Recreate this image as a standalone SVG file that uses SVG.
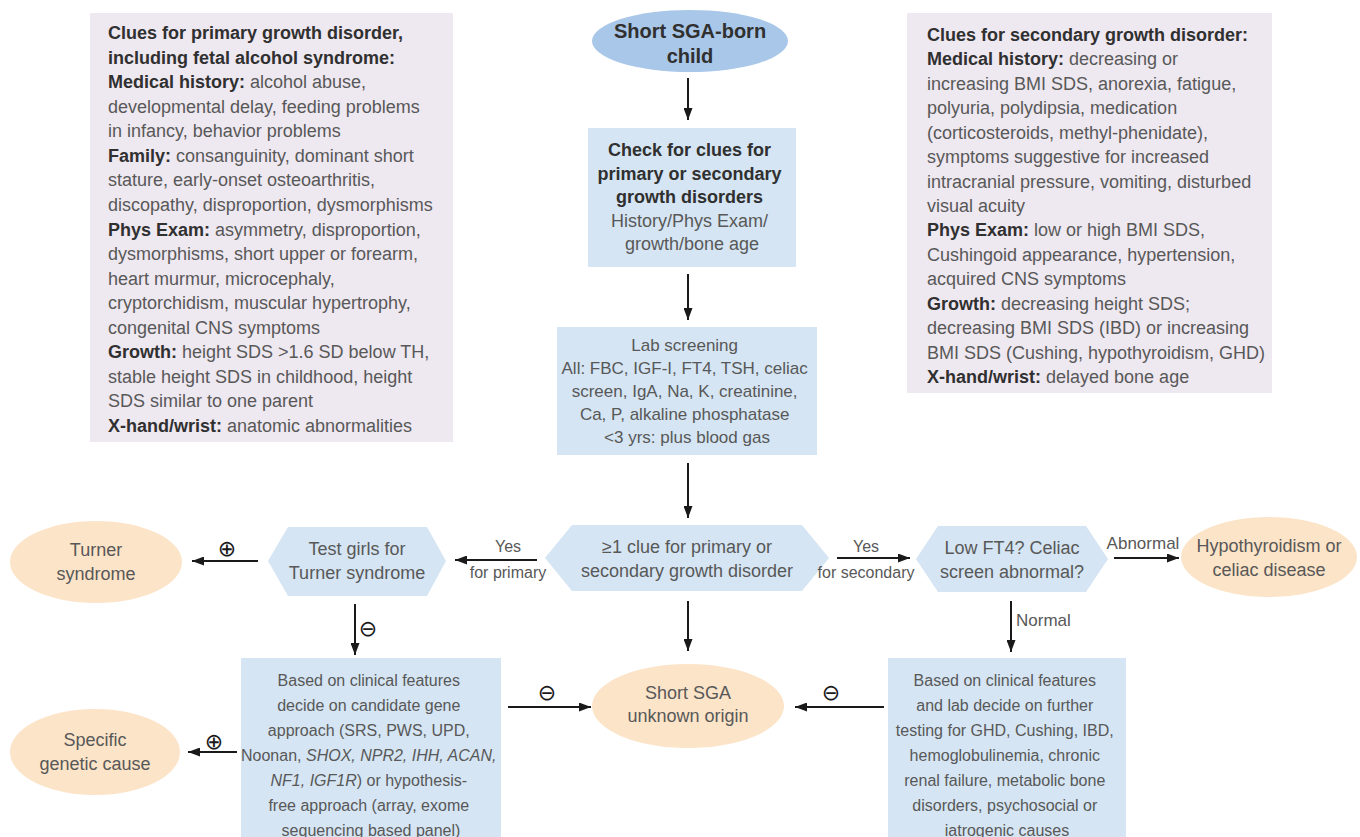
<svg xmlns="http://www.w3.org/2000/svg" width="1360" height="837" viewBox="0 0 1360 837">
<defs>
<marker id="ah" markerUnits="userSpaceOnUse" markerWidth="12" markerHeight="9" refX="12" refY="4.5" orient="auto">
<path d="M0,0 L12,4.5 L0,9 z" fill="#1a1a1a"/>
</marker>
<style>
.lav{fill:#eee8f0}
.blue{fill:#d5e5f3}
.peach{fill:#fce4c8}
.topc{fill:#a9c7e8}
.t{font-family:"Liberation Sans",Arial,sans-serif;fill:#585858;font-size:18px}
.b{font-weight:bold;fill:#303030}
.c{text-anchor:middle}
.s16{font-size:16px}
.s17{font-size:17px}
.sym{font-family:"DejaVu Sans",sans-serif;font-size:22px;fill:#1a1a1a;text-anchor:middle;dominant-baseline:central}
.edge{stroke:#1a1a1a;stroke-width:2;fill:none;marker-end:url(#ah)}
</style>
</defs>
<rect width="1360" height="837" fill="#ffffff"/>

<g id="clues-primary">
<rect class="lav" x="90" y="13" width="363" height="429"/>
<text class="t">
<tspan x="108" y="39" class="b">Clues for primary growth disorder,</tspan>
<tspan x="108" y="63.6" class="b">including fetal alcohol syndrome:</tspan>
<tspan x="108" y="88.1"><tspan class="b">Medical history:</tspan> alcohol abuse,</tspan>
<tspan x="108" y="112.7">developmental delay, feeding problems</tspan>
<tspan x="108" y="137.2">in infancy, behavior problems</tspan>
<tspan x="108" y="161.8"><tspan class="b">Family:</tspan> consanguinity, dominant short</tspan>
<tspan x="108" y="186.4">stature, early-onset osteoarthritis,</tspan>
<tspan x="108" y="210.9">discopathy, disproportion, dysmorphisms</tspan>
<tspan x="108" y="235.5"><tspan class="b">Phys Exam:</tspan> asymmetry, disproportion,</tspan>
<tspan x="108" y="260">dysmorphisms, short upper or forearm,</tspan>
<tspan x="108" y="284.6">heart murmur, microcephaly,</tspan>
<tspan x="108" y="309.2">cryptorchidism, muscular hypertrophy,</tspan>
<tspan x="108" y="333.7">congenital CNS symptoms</tspan>
<tspan x="108" y="358.3"><tspan class="b">Growth:</tspan> height SDS &gt;1.6 SD below TH,</tspan>
<tspan x="108" y="382.8">stable height SDS in childhood, height</tspan>
<tspan x="108" y="407.4">SDS similar to one parent</tspan>
<tspan x="108" y="432"><tspan class="b">X-hand/wrist:</tspan> anatomic abnormalities</tspan>
</text>
</g>

<g id="clues-secondary">
<rect class="lav" x="907" y="13" width="365" height="380"/>
<text class="t">
<tspan x="927" y="41" class="b">Clues for secondary growth disorder:</tspan>
<tspan x="927" y="65.4"><tspan class="b">Medical history:</tspan> decreasing or</tspan>
<tspan x="927" y="89.9">increasing BMI SDS, anorexia, fatigue,</tspan>
<tspan x="927" y="114.3">polyuria, polydipsia, medication</tspan>
<tspan x="927" y="138.7">(corticosteroids, methyl-phenidate),</tspan>
<tspan x="927" y="163.2">symptoms suggestive for increased</tspan>
<tspan x="927" y="187.6">intracranial pressure, vomiting, disturbed</tspan>
<tspan x="927" y="212">visual acuity</tspan>
<tspan x="927" y="236.4"><tspan class="b">Phys Exam:</tspan> low or high BMI SDS,</tspan>
<tspan x="927" y="260.9">Cushingoid appearance, hypertension,</tspan>
<tspan x="927" y="285.3">acquired CNS symptoms</tspan>
<tspan x="927" y="309.7"><tspan class="b">Growth:</tspan> decreasing height SDS;</tspan>
<tspan x="927" y="334.2">decreasing BMI SDS (IBD) or increasing</tspan>
<tspan x="927" y="358.6">BMI SDS (Cushing, hypothyroidism, GHD)</tspan>
<tspan x="927" y="383"><tspan class="b">X-hand/wrist:</tspan> delayed bone age</tspan>
</text>
</g>

<g id="start">
<ellipse class="topc" cx="690" cy="41" rx="98" ry="31"/>
<text class="t b c" style="font-size:20px"><tspan x="690" y="38">Short SGA-born</tspan><tspan x="690" y="63">child</tspan></text>
</g>

<g id="check-clues">
<rect class="blue" x="588" y="128" width="208" height="139"/>
<text class="t c">
<tspan x="692" y="156" class="b">Check for clues for</tspan>
<tspan x="692" y="180" class="b">primary or secondary</tspan>
<tspan x="692" y="203" class="b">growth disorders</tspan>
<tspan x="692" y="227">History/Phys Exam/</tspan>
<tspan x="692" y="250">growth/bone age</tspan>
</text>
</g>

<g id="lab-screening">
<rect class="blue" x="557" y="327" width="260" height="128"/>
<text class="t c s17">
<tspan x="687" y="351">Lab screening</tspan>
<tspan x="687" y="374">All: FBC, IGF-I, FT4, TSH, celiac</tspan>
<tspan x="687" y="397">screen, IgA, Na, K, creatinine,</tspan>
<tspan x="687" y="420">Ca, P, alkaline phosphatase</tspan>
<tspan x="687" y="443">&lt;3 yrs: plus blood gas</tspan>
</text>
</g>

<g id="decision">
<polygon class="blue" points="545,558 572,525 802,525 829,558 802,591 572,591"/>
<text class="t c"><tspan x="687" y="553">≥1 clue for primary or</tspan><tspan x="687" y="577">secondary growth disorder</tspan></text>
</g>

<g id="test-turner">
<polygon class="blue" points="268,561 288,527 427,527 446,561 427,596 288,596"/>
<text class="t c"><tspan x="357" y="555">Test girls for</tspan><tspan x="357" y="579">Turner syndrome</tspan></text>
</g>

<g id="turner">
<ellipse class="peach" cx="96" cy="562" rx="86" ry="41"/>
<text class="t c"><tspan x="96" y="556">Turner</tspan><tspan x="96" y="580">syndrome</tspan></text>
</g>

<g id="low-ft4">
<polygon class="blue" points="916,559 938,526 1086,526 1108,559 1086,592 938,592"/>
<text class="t c"><tspan x="1012" y="554">Low FT4? Celiac</tspan><tspan x="1012" y="578">screen abnormal?</tspan></text>
</g>

<g id="hypothyroidism">
<ellipse class="peach" cx="1269" cy="557" rx="88" ry="40"/>
<text class="t c"><tspan x="1269" y="552">Hypothyroidism or</tspan><tspan x="1269" y="576">celiac disease</tspan></text>
</g>

<g id="genetic-testing">
<rect class="blue" x="241" y="658" width="260" height="179"/>
<text class="t c s16">
<tspan x="371" y="686">Based on clinical features</tspan>
<tspan x="371" y="711">decide on candidate gene</tspan>
<tspan x="371" y="736">approach (SRS, PWS, UPD,</tspan>
<tspan x="371" y="761">Noonan, <tspan font-style="italic">SHOX, NPR2, IHH, ACAN,</tspan></tspan>
<tspan x="371" y="786"><tspan font-style="italic">NF1, IGF1R</tspan>) or hypothesis-</tspan>
<tspan x="371" y="811">free approach (array, exome</tspan>
<tspan x="371" y="836">sequencing based panel)</tspan>
</text>
</g>

<g id="specific-genetic">
<ellipse class="peach" cx="95" cy="752" rx="85" ry="43"/>
<text class="t c"><tspan x="95" y="746">Specific</tspan><tspan x="95" y="770">genetic cause</tspan></text>
</g>

<g id="unknown-origin">
<ellipse class="peach" cx="688" cy="706" rx="96" ry="42"/>
<text class="t c"><tspan x="688" y="699">Short SGA</tspan><tspan x="688" y="722">unknown origin</tspan></text>
</g>

<g id="further-testing">
<rect class="blue" x="888" y="658" width="238" height="179"/>
<text class="t c s16">
<tspan x="1007" y="686">Based on clinical features</tspan>
<tspan x="1007" y="711">and lab decide on further</tspan>
<tspan x="1007" y="736">testing for GHD, Cushing, IBD,</tspan>
<tspan x="1007" y="761">hemoglobulinemia, chronic</tspan>
<tspan x="1007" y="786">renal failure, metabolic bone</tspan>
<tspan x="1007" y="811">disorders, psychosocial or</tspan>
<tspan x="1007" y="836">iatrogenic causes</tspan>
</text>
</g>

<g id="connectors">
<line class="edge" x1="688" y1="78" x2="688" y2="120"/>
<line class="edge" x1="688" y1="274" x2="688" y2="320"/>
<line class="edge" x1="688" y1="463" x2="688" y2="518"/>
<line class="edge" x1="688" y1="601" x2="688" y2="651"/>
<line class="edge" x1="537" y1="560" x2="455" y2="560"/>
<line class="edge" x1="258" y1="561" x2="192" y2="561"/>
<line class="edge" x1="355" y1="604" x2="355" y2="655"/>
<line class="edge" x1="837" y1="558" x2="910" y2="558"/>
<line class="edge" x1="1114" y1="558" x2="1179" y2="558"/>
<line class="edge" x1="1011" y1="601" x2="1011" y2="652"/>
<line class="edge" x1="237" y1="752" x2="188" y2="752"/>
<line class="edge" x1="508" y1="707" x2="591" y2="707"/>
<line class="edge" x1="884" y1="707" x2="795" y2="707"/>
<text class="t c s16"><tspan x="508" y="552">Yes</tspan><tspan x="508" y="578">for primary</tspan></text>
<text class="t c s16"><tspan x="866" y="552">Yes</tspan><tspan x="866" y="578">for secondary</tspan></text>
<text class="t c s17" x="1143" y="549">Abnormal</text>
<text class="t s17" x="1016" y="626">Normal</text>
<text class="sym" x="227" y="548">⊕</text>
<text class="sym" x="368" y="628">⊖</text>
<text class="sym" x="214" y="741">⊕</text>
<text class="sym" x="547" y="692">⊖</text>
<text class="sym" x="831" y="692">⊖</text>
</g>
</svg>
